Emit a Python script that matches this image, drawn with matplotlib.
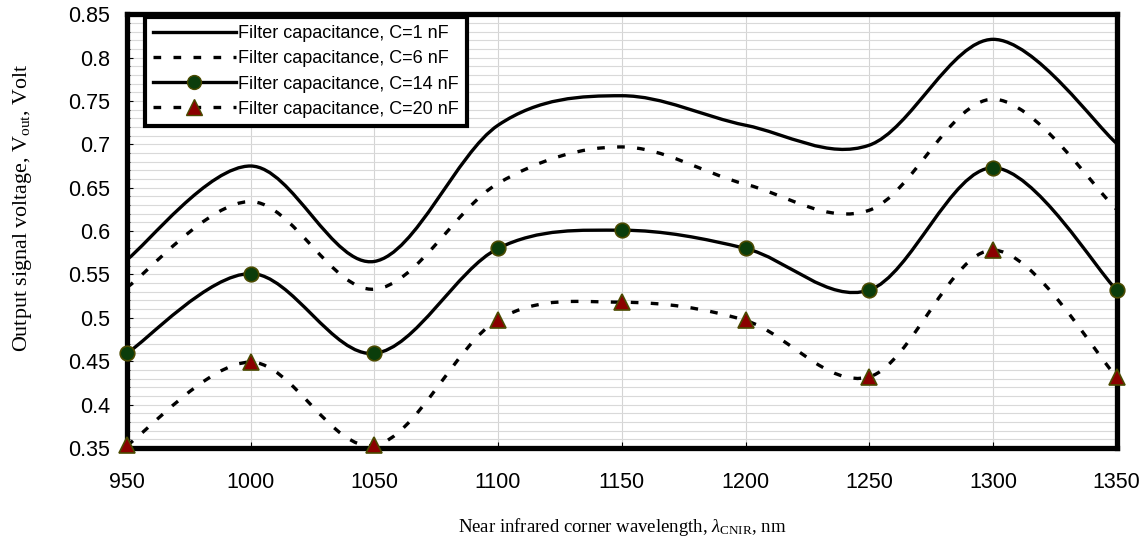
import matplotlib
matplotlib.use('Agg')
import matplotlib.pyplot as plt
from matplotlib.path import Path
from matplotlib.patches import PathPatch
from matplotlib.lines import Line2D
from matplotlib.ticker import MultipleLocator

plt.rcParams.update({
    'font.family': ['Liberation Sans', 'DejaVu Sans'],
    'mathtext.fontset': 'custom',
    'mathtext.rm': 'Liberation Serif',
    'mathtext.it': 'Liberation Serif:italic',
})

wavelength = [950, 1000, 1050, 1100, 1150, 1200, 1250, 1300, 1350]
v_c1 = [0.567, 0.675, 0.565, 0.722, 0.756, 0.722, 0.699, 0.821, 0.701]
v_c6 = [0.535, 0.634, 0.533, 0.655, 0.697, 0.654, 0.624, 0.752, 0.625]
v_c14 = [0.459, 0.551, 0.459, 0.580, 0.601, 0.580, 0.532, 0.673, 0.532]
v_c20 = [0.353, 0.449, 0.353, 0.498, 0.518, 0.497, 0.432, 0.578, 0.432]
labels = ['Filter capacitance, C=1 nF', 'Filter capacitance, C=6 nF',
          'Filter capacitance, C=14 nF', 'Filter capacitance, C=20 nF']

DASH = (0, (2.3, 3.7))
LW = 2.4


def smooth_path(x, y):
    # Excel-style smoothed line: cubic Bezier through the data points
    pts = list(zip(x, y))
    n = len(pts)
    verts = [pts[0]]
    codes = [Path.MOVETO]
    for i in range(n - 1):
        p0 = pts[max(i - 1, 0)]
        p1 = pts[i]
        p2 = pts[i + 1]
        p3 = pts[min(i + 2, n - 1)]
        c1 = (p1[0] + (p2[0] - p0[0]) / 6, p1[1] + (p2[1] - p0[1]) / 6)
        c2 = (p2[0] - (p3[0] - p1[0]) / 6, p2[1] - (p3[1] - p1[1]) / 6)
        verts += [c1, c2, p2]
        codes += [Path.CURVE4] * 3
    return Path(verts, codes)


fig = plt.figure(figsize=(11.43, 5.45), dpi=100)
ax = fig.add_axes([0.111, 0.178, 0.866, 0.796])

series = [(v_c1, '-'), (v_c6, DASH), (v_c14, '-'), (v_c20, DASH)]
for vals, ls in series:
    ax.add_patch(PathPatch(smooth_path(wavelength, vals), fill=False,
                           edgecolor='black', lw=LW, linestyle=ls,
                           capstyle='butt', joinstyle='round', zorder=3))

ax.plot(wavelength, v_c14, linestyle='none', marker='o', ms=10.5,
        mfc='#0b3d0b', mec='#4a4a00', mew=1.2, clip_on=False, zorder=6)
ax.plot(wavelength, v_c20, linestyle='none', marker='^', ms=12,
        mfc='#8b0000', mec='#4a4a00', mew=1.2, clip_on=False, zorder=6)

ax.set_xlim(950, 1350)
ax.set_ylim(0.35, 0.85)
ax.xaxis.set_major_locator(MultipleLocator(50))
ax.yaxis.set_major_locator(MultipleLocator(0.05))
ax.yaxis.set_minor_locator(MultipleLocator(0.01))
ax.set_yticklabels([f'{t:g}' for t in ax.get_yticks()])
ax.grid(True, which='both', axis='y', color='#d9d9d9', lw=0.8)
ax.grid(True, which='major', axis='x', color='#d4d4d4', lw=0.8)
ax.set_axisbelow(True)
ax.tick_params(axis='both', which='major', direction='in', length=4,
               labelsize=15.5)
ax.tick_params(axis='x', which='major', pad=17)
ax.tick_params(axis='y', which='major', pad=12)
ax.tick_params(axis='y', which='minor', direction='in', length=2)
for sp in ax.spines.values():
    sp.set_linewidth(3.8)

ax.set_xlabel(r'Near infrared corner wavelength, $\lambda_{\rm CNIR}$, nm',
              family='Liberation Serif', fontsize=13.5, labelpad=17)
ax.set_ylabel(r'Output signal voltage, V$_{\rm out}$, Volt',
              family='Liberation Serif', fontsize=15.8)
ax.yaxis.set_label_coords(-0.094, 0.555)

handles = [
    Line2D([], [], color='black', lw=LW),
    Line2D([], [], color='black', lw=LW, linestyle=DASH),
    Line2D([], [], color='black', lw=LW, marker='o', ms=10,
           mfc='#0b3d0b', mec='#4a4a00'),
    Line2D([], [], color='black', lw=LW, linestyle=DASH, marker='^', ms=11,
           mfc='#8b0000', mec='#4a4a00'),
]
leg = ax.legend(handles, labels, loc='upper left', bbox_to_anchor=(0.018, 0.993),
                fontsize=13, frameon=True, fancybox=False, framealpha=1,
                handlelength=4.6, handletextpad=0.1, labelspacing=0.45,
                borderpad=0.45, borderaxespad=0)
leg.get_frame().set_edgecolor('black')
leg.get_frame().set_linewidth(3)
leg.set_zorder(10)

fig.savefig('out.png', dpi=100)
